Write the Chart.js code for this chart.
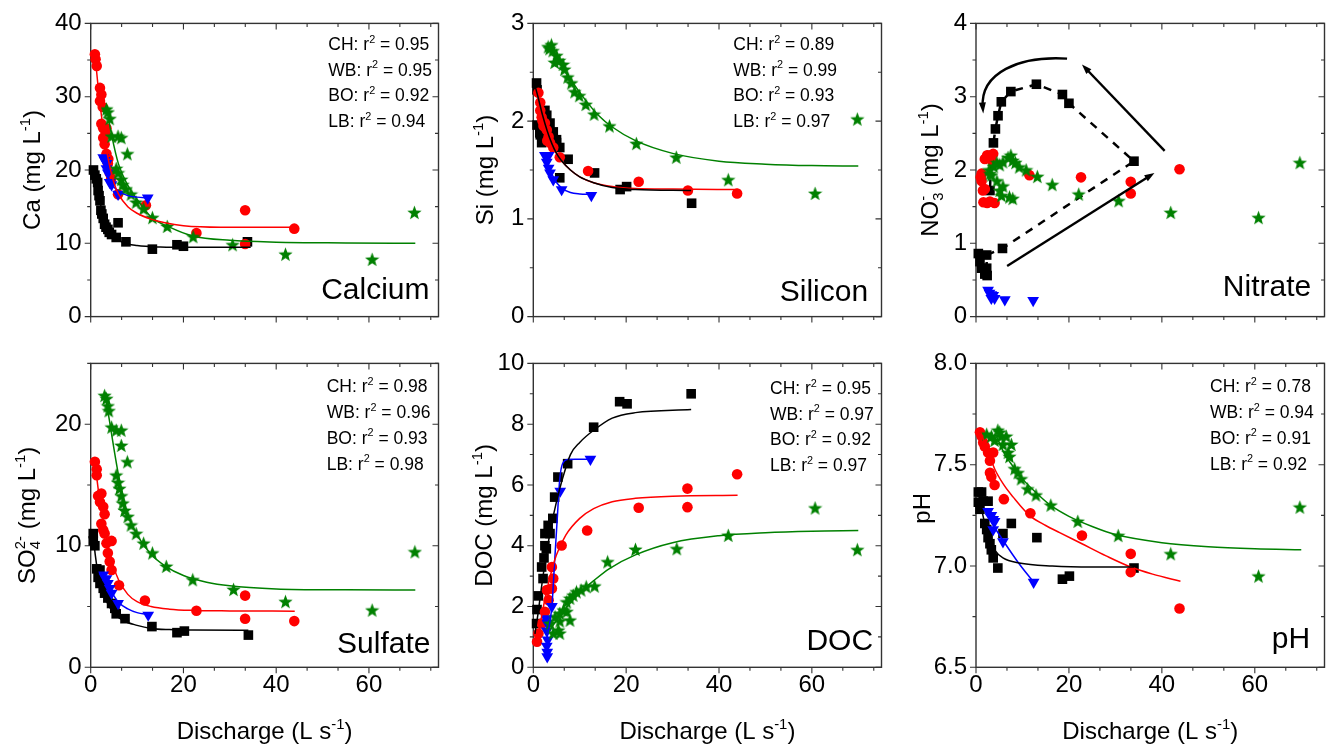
<!DOCTYPE html>
<html>
<head>
<meta charset="utf-8">
<title>Solute concentration vs discharge</title>
<script src="https://cdn.jsdelivr.net/npm/chart.js@4.4.1/dist/chart.umd.min.js"></script>
<style>
  html, body { margin: 0; padding: 0; background: #fff; }
  body { position: relative; width: 1327px; height: 746px; overflow: hidden; }
  canvas { position: absolute; }
</style>
</head>
<body>
<canvas id="ca"  width="446" height="340" style="left:0px;top:0px"></canvas>
<canvas id="si"  width="446" height="340" style="left:443px;top:0px"></canvas>
<canvas id="no3" width="446" height="340" style="left:886px;top:0px"></canvas>
<canvas id="so4" width="446" height="406" style="left:0px;top:340px"></canvas>
<canvas id="doc" width="446" height="406" style="left:443px;top:340px"></canvas>
<canvas id="ph"  width="446" height="406" style="left:886px;top:340px"></canvas>
<script>
/* global Chart */

// ---- data: [discharge (L/s), concentration] per site ----
// CH = black squares, WB = red circles, BO = blue triangles, LB = green stars

const caCH = [[0.6,20.0],[0.9,19.3],[1.2,18.8],[1.5,18.3],[1.6,17.2],[1.8,16.5],[2.0,15.8],[2.2,14.5],[2.4,14.0],[2.7,13.4],[3.0,12.6],[3.3,12.2],[3.7,11.9],[4.0,11.5],[4.5,11.2],[5.5,10.8],[5.9,12.8],[7.6,10.2],[13.3,9.2],[18.6,9.8],[20.0,9.6],[33.8,10.2]];
const caWB = [[0.9,35.8],[1.05,35.1],[1.3,34.2],[2.0,31.2],[2.3,30.3],[2.0,29.4],[2.6,28.6],[2.3,26.3],[2.7,25.7],[3.4,25.7],[3.2,24.8],[2.7,24.4],[3.0,23.5],[3.4,22.2],[3.8,21.5],[3.7,20.9],[4.1,19.6],[4.4,18.8],[5.9,16.7],[11.9,15.2],[33.3,14.5],[22.8,11.4],[33.3,9.9],[43.9,12.0]];
const caBO = [[2.7,21.7],[3.0,21.3],[3.4,20.9],[3.4,20.2],[3.7,19.6],[4.1,18.3],[4.5,18.0],[5.9,16.7],[12.3,16.2]];
const caLB = [[3.4,28.3],[3.7,27.9],[4.1,27.0],[4.5,24.6],[5.9,24.6],[6.6,24.4],[7.9,22.2],[5.5,20.2],[5.9,19.6],[6.6,18.7],[6.9,18.0],[7.6,17.4],[8.7,16.7],[9.8,15.6],[11.4,14.7],[13.3,13.5],[16.5,12.3],[22.1,10.9],[30.6,9.8],[42.0,8.5],[60.7,7.8],[69.8,14.2]];
const caCHFit = [[0.5,19.8],[1,18.3],[2,15.6],[3,13.3],[4,11.8],[5,10.9],[7,10.1],[10,9.7],[15,9.5],[22,9.45],[34.5,9.45]];
const caWBFit = [[1,35.2],[1.5,32],[2,29],[3,24.3],[4,20.8],[5,18.3],[6,16.7],[8,15],[10,14.1],[13,13.3],[16,12.8],[20,12.4],[28,12.2],[44,12.2]];
const caBOFit = [[2.7,21.5],[3.5,19.6],[4.5,18.1],[6,17.1],[8,16.5],[10,16.3],[12.3,16.2]];
const caLBFit = [[3.4,28.5],[4.5,24.8],[6,20.8],[8,17.9],[10,16.0],[13,13.6],[17,12.2],[22,11.0],[30,10.4],[40,10.15],[55,10.05],[70,10.0]];
const caR2 = ['0.95', '0.95', '0.92', '0.94'];

const siCH = [[0.7,2.39],[0.8,2.32],[0.8,1.96],[1.4,1.88],[1.5,1.86],[1.8,1.78],[2.5,2.11],[2.9,2.06],[3.6,1.98],[4.3,1.89],[5.0,1.81],[5.0,1.78],[5.7,1.73],[7.5,1.61],[5.7,1.42],[13.2,1.47],[18.7,1.30],[20.1,1.33],[34.1,1.16]];
const siWB = [[1.1,2.29],[1.5,2.19],[1.5,2.11],[1.8,2.04],[2.0,2.0],[2.2,1.95],[2.5,1.98],[2.9,1.91],[3.0,1.8],[3.3,1.84],[3.6,1.78],[4.3,1.73],[5.7,1.63],[11.8,1.49],[22.7,1.38],[33.3,1.29],[43.9,1.26]];
const siBO = [[2.5,1.65],[3.3,1.65],[2.9,1.58],[3.3,1.52],[3.6,1.47],[4.3,1.40],[6.1,1.30],[12.5,1.24]];
const siLB = [[3.2,2.76],[3.5,2.74],[3.9,2.78],[4.2,2.72],[4.6,2.60],[5.0,2.67],[5.6,2.62],[6.4,2.58],[6.7,2.53],[7.4,2.45],[8.2,2.39],[8.9,2.30],[9.9,2.26],[11.3,2.17],[13.1,2.07],[16.4,1.95],[22.2,1.77],[30.8,1.63],[42.0,1.40],[60.7,1.26],[69.8,2.02]];
const siCHFit = [[0.5,2.34],[1,2.25],[2,2.06],[3,1.9],[4,1.77],[5,1.67],[6,1.6],[8,1.5],[10,1.43],[13,1.37],[17,1.32],[22,1.3],[34,1.29]];
const siWBFit = [[1,2.28],[2,2.06],[3,1.9],[4,1.77],[5,1.67],[6,1.6],[8,1.5],[10,1.43],[13,1.37],[17,1.33],[22,1.31],[30,1.305],[44,1.3]];
const siBOFit = [[2.5,1.68],[3.5,1.52],[4.5,1.41],[6,1.32],[8,1.27],[10,1.255],[12.5,1.25]];
const siLBFit = [[3,2.8],[5,2.65],[8,2.43],[11,2.23],[14,2.06],[17,1.94],[22,1.8],[30,1.67],[40,1.59],[50,1.56],[60,1.545],[70,1.54]];
const siR2 = ['0.89', '0.99', '0.93', '0.97'];

// CH nitrate samples in time order (hysteresis loop)
const no3CH = [[0.5,0.86],[0.85,0.75],[1.2,0.66],[1.9,0.58],[2.4,0.56],[2.3,0.66],[2.3,0.84],[5.7,0.93],[34.0,2.12],[20.0,2.91],[18.6,3.03],[13.0,3.17],[7.5,3.07],[5.45,2.93],[4.74,2.74],[4.18,2.56],[3.75,2.37],[3.3,2.2],[3.0,1.72]];
const no3WB = [[1.0,1.9],[1.2,1.95],[1.2,1.85],[1.5,1.72],[1.9,1.74],[1.9,2.15],[2.4,2.2],[2.6,2.17],[3.0,2.18],[3.7,2.22],[3.5,2.12],[1.6,1.56],[2.4,1.55],[3.0,1.57],[4.0,1.55],[11.5,1.93],[22.6,1.90],[33.3,1.84],[33.3,1.68],[43.8,2.01]];
const no3BO = [[2.6,0.36],[2.9,0.32],[3.3,0.3],[3.7,0.29],[4.0,0.25],[3.3,0.25],[6.2,0.23],[12.3,0.22]];
const no3LB = [[2.8,2.0],[3.0,1.95],[3.3,1.93],[3.8,2.05],[4.5,2.1],[5.1,2.07],[5.8,2.11],[6.9,2.17],[7.5,2.2],[7.9,2.13],[8.5,2.1],[9.3,2.04],[10.8,2.0],[13.2,1.91],[16.4,1.80],[22.1,1.67],[30.7,1.58],[41.9,1.42],[60.8,1.35],[69.7,2.10],[4.5,1.85],[5.1,1.72],[5.5,1.65],[5.8,1.78],[7.2,1.63],[7.9,1.61]];
// loop direction arrows, in axis units
const no3StraightArrows = [[[40.6,2.26],[22.8,3.44]], [[6.7,0.69],[38.4,1.96]]];
const no3CurvedArrow = [[19.6,3.52],[9.3,3.56],[0.85,3.33],[1.56,2.77]];

const so4CH = [[0.55,11.0],[0.55,10.4],[0.9,10.0],[1.3,8.1],[2.0,8.0],[1.6,7.4],[2.0,6.9],[2.7,6.5],[3.0,6.1],[3.7,5.7],[4.5,5.25],[5.2,4.85],[5.5,4.4],[7.4,4.0],[13.2,3.35],[18.6,2.85],[20.2,2.98],[34.0,2.65]];
const so4WB = [[0.9,16.9],[1.3,16.3],[1.3,15.8],[1.6,14.1],[2.3,14.3],[2.0,13.6],[2.7,13.2],[3.0,12.6],[2.3,11.8],[2.7,11.3],[3.0,11.0],[4.5,10.4],[3.4,10.2],[3.7,9.4],[4.1,8.7],[4.5,8.0],[6.1,6.75],[11.7,5.5],[22.8,4.65],[33.3,5.9],[33.3,4.0],[43.9,3.8]];
const so4BO = [[2.7,7.6],[3.4,7.3],[3.7,6.9],[4.1,6.5],[4.5,6.1],[5.9,5.25],[12.4,4.3]];
const so4LB = [[3.0,22.35],[3.4,22.1],[3.7,21.5],[3.9,21.1],[4.5,19.75],[5.5,19.5],[6.6,19.5],[6.6,18.25],[7.9,16.9],[5.5,15.8],[5.9,15.2],[6.2,14.7],[6.6,14.1],[6.9,13.5],[7.3,12.9],[8.0,12.4],[8.7,11.7],[9.8,11.0],[11.4,10.2],[13.3,9.4],[16.3,8.3],[22.0,7.2],[30.8,6.4],[42.0,5.4],[60.7,4.7],[69.9,9.5]];
const so4CHFit = [[0.5,11.0],[1,9.2],[1.5,7.9],[2,7.0],[3,5.8],[4,5.0],[5,4.45],[7,3.85],[10,3.45],[13,3.2],[17,3.1],[22,3.06],[34,3.05]];
const so4WBFit = [[1,16.6],[1.5,15],[2,13.6],[3,11.4],[4,9.6],[5,8.2],[6,7.2],[8,6.0],[10,5.4],[13,5.0],[17,4.78],[22,4.68],[30,4.64],[44,4.62]];
const so4BOFit = [[2.5,7.8],[3.5,6.9],[4.5,6.2],[6,5.35],[8,4.8],[10,4.5],[12.4,4.35]];
const so4LBFit = [[3,22.6],[4,20.4],[5,18.0],[6,15.8],[7,14.0],[8,12.6],[10,10.9],[13,9.3],[16,8.35],[20,7.55],[25,7.0],[30,6.7],[40,6.45],[55,6.37],[70,6.35]];
const so4R2 = ['0.98', '0.96', '0.93', '0.98'];

const docCH = [[0.7,1.44],[0.8,1.9],[1.1,2.35],[1.8,3.3],[2.1,2.92],[2.3,3.6],[2.5,4.0],[2.5,4.4],[2.8,3.9],[3.2,4.67],[3.6,4.4],[4.2,4.9],[4.6,5.6],[5.3,6.26],[7.4,6.7],[13.0,7.9],[18.6,8.74],[20.2,8.67],[34.0,9.0]];
const docWB = [[0.8,0.84],[1.1,1.11],[1.8,1.44],[2.5,1.83],[3.3,2.21],[2.9,2.54],[4.0,2.59],[4.3,2.92],[4.0,3.3],[6.1,4.01],[11.6,4.5],[22.7,5.25],[33.2,5.88],[33.2,5.27],[43.9,6.35]];
const docBO = [[2.8,1.6],[3.0,1.45],[2.9,1.2],[3.1,0.9],[2.9,0.7],[3.0,0.5],[3.0,0.35],[4.0,2.0],[5.8,5.8],[12.3,6.85]];
const docLB = [[3.6,1.44],[4.3,1.12],[4.7,1.66],[5.4,1.22],[5.7,1.77],[5.7,1.52],[5.7,1.12],[6.5,1.88],[7.2,1.83],[7.2,2.15],[7.9,2.27],[7.9,1.55],[8.6,2.37],[9.3,2.48],[10.3,2.54],[11.4,2.65],[13.2,2.67],[16.0,3.47],[22.0,3.88],[30.9,3.9],[42.0,4.34],[60.7,5.24],[69.8,3.87]];
const docCHFit = [[0.35,1.1],[1,1.75],[2,2.9],[3,3.9],[4,4.75],[5,5.45],[6,6.05],[8,7.0],[10,7.4],[13,7.8],[17,8.2],[22,8.38],[34,8.48]];
const docWBFit = [[1,1.0],[2,1.85],[3,2.6],[4,3.2],[5,3.7],[7,4.35],[10,4.9],[13,5.22],[17,5.45],[22,5.56],[30,5.63],[44,5.66]];
const docBOFit = [[3,1.0],[4,2.0],[4.6,3.5],[5.2,5.0],[5.7,6.2],[6.3,6.7],[7.5,6.84],[9,6.85],[12.3,6.85]];
const docLBFit = [[3,1.1],[5,1.55],[7,1.95],[10,2.45],[13,2.85],[16.4,3.25],[22,3.7],[30,4.1],[40,4.33],[50,4.43],[60,4.48],[70,4.5]];
const docR2 = ['0.95', '0.97', '0.92', '0.97'];

const phCH = [[0.5,7.365],[1.2,7.365],[0.5,7.315],[1.55,7.32],[2.6,7.32],[0.85,7.28],[1.9,7.21],[2.3,7.18],[2.6,7.14],[3.0,7.11],[3.3,7.08],[3.7,7.04],[4.7,6.99],[5.8,7.16],[7.6,7.21],[13.1,7.14],[18.6,6.935],[20.1,6.95],[34.0,6.99]];
const phWB = [[0.85,7.66],[1.2,7.64],[1.55,7.61],[1.9,7.59],[2.6,7.56],[3.7,7.56],[3.0,7.52],[3.0,7.46],[3.3,7.44],[4.0,7.40],[6.0,7.33],[11.7,7.26],[22.8,7.15],[33.3,7.06],[33.3,6.97],[43.8,6.79]];
const phBO = [[2.6,7.27],[3.3,7.25],[3.7,7.23],[4.0,7.22],[3.7,7.18],[5.8,7.12],[12.4,6.92]];
const phLB = [[2.3,7.65],[3.3,7.64],[4.7,7.67],[5.1,7.66],[5.4,7.64],[6.5,7.64],[4.0,7.62],[5.8,7.60],[7.6,7.60],[6.9,7.56],[7.2,7.54],[8.3,7.48],[9.0,7.46],[9.7,7.43],[11.1,7.38],[12.9,7.35],[16.1,7.30],[21.9,7.22],[30.6,7.15],[41.9,7.06],[60.8,6.95],[69.7,7.29]];
const phCHFit = [[1,7.3],[2,7.2],[3,7.13],[4,7.08],[5.8,7.04],[9.3,7.015],[16.4,7.0],[25,6.995],[34,6.995]];
const phWBFit = [[1,7.66],[2,7.6],[3,7.54],[4,7.48],[6,7.4],[8,7.34],[11.5,7.25],[15,7.2],[18,7.165],[22.8,7.11],[28,7.05],[33.3,6.995],[38,6.96],[44,6.925]];
const phBOFit = [[2,7.26],[4,7.19],[6,7.12],[9,7.02],[12.4,6.92]];
const phLBFit = [[4.4,7.64],[6,7.56],[8,7.49],[10,7.43],[13,7.36],[16,7.3],[20,7.245],[25,7.195],[30,7.155],[40,7.115],[50,7.095],[60,7.085],[70,7.08]];
const phR2 = ['0.78', '0.94', '0.91', '0.92'];

const xTickLabels = [0, 20, 40, 60];
const X_MAX = 75;
const SITES = ['CH', 'WB', 'BO', 'LB'];

// ---- styling ----
const FONT = 'Arial, "Liberation Sans", sans-serif';
const INK = '#000000';
const FRAME = '#333333';
const SITE_COLOR = { CH: '#000000', WB: '#ff0000', BO: '#0000ff', LB: '#008000' };

function makeStar(size, color) {
  const c = document.createElement('canvas');
  c.width = c.height = size;
  const g = c.getContext('2d');
  const cx = size / 2, cy = size / 2 + 0.6, R = size / 2, r = R * 0.42;
  g.beginPath();
  for (let i = 0; i < 10; i++) {
    const a = -Math.PI / 2 + i * Math.PI / 5;
    const rr = i % 2 ? r : R;
    g.lineTo(cx + rr * Math.cos(a), cy + rr * Math.sin(a));
  }
  g.closePath();
  g.fillStyle = color;
  g.fill();
  return c;
}
const STAR = makeStar(15, SITE_COLOR.LB);

const MARKER = {
  CH: { pointStyle: 'rect', pointRadius: 6.8, rotation: 0, order: 4 },
  WB: { pointStyle: 'circle', pointRadius: 5.3, rotation: 0, order: 3 },
  BO: { pointStyle: 'triangle', pointRadius: 6.8, rotation: 180, order: 2 },
  LB: { pointStyle: STAR, pointRadius: 7.5, rotation: 0, order: 1 },
};

const pts = arr => arr.map(([x, y]) => ({ x, y }));

function scatterSet(arr, site, extra) {
  const m = MARKER[site];
  return Object.assign({
    data: pts(arr),
    pointStyle: m.pointStyle,
    pointRadius: m.pointRadius,
    pointRotation: m.rotation,
    pointBackgroundColor: SITE_COLOR[site],
    pointBorderWidth: 0,
    pointBorderColor: SITE_COLOR[site],
    showLine: false,
    order: m.order,
    clip: false,
  }, extra || {});
}

function fitSet(arr, site) {
  return {
    data: pts(arr),
    showLine: true,
    pointRadius: 0,
    borderColor: SITE_COLOR[site],
    borderWidth: 1.5,
    cubicInterpolationMode: 'monotone',
    fill: false,
    order: 0,
    clip: false,
  };
}

// ---- rich text (sub/superscripts) ----
function drawRich(ctx, segs, x, y, size, align) {
  const small = size * 0.62;
  const parts = [];
  let w = 0;
  for (const [t, k] of segs) {
    let ww;
    if (k === 'subsup') {
      ctx.font = `${small}px ${FONT}`;
      ww = Math.max(ctx.measureText(t[0]).width, ctx.measureText(t[1]).width);
    } else {
      ctx.font = `${k ? small : size}px ${FONT}`;
      ww = ctx.measureText(t).width;
    }
    parts.push([t, k, ww]);
    w += ww;
  }
  let cx = align === 'center' ? x - w / 2 : align === 'right' ? x - w : x;
  ctx.textAlign = 'left';
  ctx.textBaseline = 'alphabetic';
  ctx.fillStyle = INK;
  for (const [t, k, ww] of parts) {
    if (!k) {
      ctx.font = `${size}px ${FONT}`;
      ctx.fillText(t, cx, y);
    } else {
      ctx.font = `${small}px ${FONT}`;
      if (k === 'sup') ctx.fillText(t, cx, y - size * 0.42);
      else if (k === 'sub') ctx.fillText(t, cx, y + size * 0.2);
      else {
        ctx.fillText(t[0], cx, y + size * 0.2);
        ctx.fillText(t[1], cx, y - size * 0.42);
      }
    }
    cx += ww;
  }
}

function arrowHead(ctx, x, y, ang, len, half) {
  ctx.beginPath();
  ctx.moveTo(x, y);
  ctx.lineTo(x - len * Math.cos(ang) + half * Math.sin(ang), y - len * Math.sin(ang) - half * Math.cos(ang));
  ctx.lineTo(x - len * Math.cos(ang) - half * Math.sin(ang), y - len * Math.sin(ang) + half * Math.cos(ang));
  ctx.closePath();
  ctx.fill();
}

// frame, ticks on all four sides, titles and annotations
const decor = {
  id: 'decor',
  beforeDatasetsDraw(chart, args, o) {
    const ctx = chart.ctx, a = chart.chartArea;
    const xs = chart.scales.x, ys = chart.scales.y;
    ctx.save();
    ctx.strokeStyle = FRAME;
    ctx.lineWidth = 1.4;
    ctx.strokeRect(a.left, a.top, a.right - a.left, a.bottom - a.top);
    ctx.lineWidth = 1.1;
    ctx.beginPath();
    for (let k = 0; k * 20 / 3 <= X_MAX + 1e-6; k++) {
      const px = xs.getPixelForValue(k * 20 / 3);
      const len = k % 3 === 0 ? 6 : 3.5;
      ctx.moveTo(px, a.bottom); ctx.lineTo(px, a.bottom + len);
      ctx.moveTo(px, a.top); ctx.lineTo(px, a.top + len);
    }
    const [ymin, ymax, major, minor] = o.yAxis;
    const n = Math.round((ymax - ymin) / minor);
    const per = Math.round(major / minor);
    for (let k = 0; k <= n; k++) {
      const py = ys.getPixelForValue(ymin + k * minor);
      const len = k % per === 0 ? 6 : 3.5;
      ctx.moveTo(a.left, py); ctx.lineTo(a.left - len, py);
      ctx.moveTo(a.right, py); ctx.lineTo(a.right - len, py);
    }
    ctx.stroke();
    ctx.restore();
  },
  afterDatasetsDraw(chart, args, o) {
    const ctx = chart.ctx, a = chart.chartArea;
    const xs = chart.scales.x, ys = chart.scales.y;
    ctx.save();

    if (o.arrows) {
      const P = ([x, y]) => [xs.getPixelForValue(x), ys.getPixelForValue(y)];
      ctx.strokeStyle = INK;
      ctx.fillStyle = INK;
      ctx.lineWidth = 2.4;
      for (const [s, e] of o.arrows.straight) {
        const [x0, y0] = P(s), [x1, y1] = P(e);
        const ang = Math.atan2(y1 - y0, x1 - x0);
        ctx.beginPath();
        ctx.moveTo(x0, y0);
        ctx.lineTo(x1 - 8 * Math.cos(ang), y1 - 8 * Math.sin(ang));
        ctx.stroke();
        arrowHead(ctx, x1, y1, ang, 10, 3.5);
      }
      const [p0, c1, c2, p3] = o.arrows.curved.map(P);
      const ang = Math.atan2(p3[1] - c2[1], p3[0] - c2[0]);
      ctx.beginPath();
      ctx.moveTo(p0[0], p0[1]);
      ctx.bezierCurveTo(c1[0], c1[1], c2[0], c2[1], p3[0] - 6 * Math.cos(ang), p3[1] - 6 * Math.sin(ang));
      ctx.stroke();
      arrowHead(ctx, p3[0], p3[1], ang, 11, 3.5);
    }

    // r² block
    if (o.r2) {
      SITES.forEach((s, i) => {
        drawRich(ctx, [[s + ': r'], ['2', 'sup'], [' = ' + o.r2[i]]],
          a.left + o.r2At[0], a.top + o.r2At[1] + i * 25.7, 17.5, 'left');
      });
    }

    // panel name
    ctx.font = `30px ${FONT}`;
    ctx.fillStyle = INK;
    ctx.textAlign = 'right';
    ctx.textBaseline = 'alphabetic';
    ctx.fillText(o.name, a.right + o.nameAt[0], a.bottom + o.nameAt[1]);

    // y title, rotated
    ctx.save();
    ctx.translate(a.left - o.yTitleOff, (a.top + a.bottom) / 2 + (o.yTitleShift || 0));
    ctx.rotate(-Math.PI / 2);
    drawRich(ctx, o.yTitle, 0, 0, 24, 'center');
    ctx.restore();

    // x title on the lower row
    if (o.xTitle) {
      drawRich(ctx, [['Discharge (L s'], ['-1', 'sup'], [')']], (a.left + a.right) / 2, a.bottom + 71.7, 24, 'center');
    }
    ctx.restore();
  },
};

const panels = [
  { id: 'ca', row: 0, yw: 90.7, y: [0, 40, 10, 5], fmt: v => String(v), name: 'Calcium', nameAt: [-9, -17.3],
    yTitle: [['Ca (mg L'], ['-1', 'sup'], [')']], yTitleOff: 50.7, r2: caR2, r2At: [237.6, 26.6],
    sets: { CH: [caCH, caCHFit], WB: [caWB, caWBFit], BO: [caBO, caBOFit], LB: [caLB, caLBFit] } },
  { id: 'si', row: 0, yw: 90.3, y: [0, 3, 1, 0.5], fmt: v => String(v), name: 'Silicon', nameAt: [-13.4, -15.6],
    yTitle: [['Si (mg L'], ['-1', 'sup'], [')']], yTitleOff: 40.3, r2: siR2, r2At: [200, 26.6],
    sets: { CH: [siCH, siCHFit], WB: [siWB, siWBFit], BO: [siBO, siBOFit], LB: [siLB, siLBFit] } },
  { id: 'no3', row: 0, yw: 90, y: [0, 4, 1, 0.5], fmt: v => String(v), name: 'Nitrate', nameAt: [-13.3, -20.6],
    yTitle: [['NO'], [['3', '-'], 'subsup'], [' (mg L'], ['-1', 'sup'], [')']], yTitleOff: 38, r2: null,
    arrows: { straight: no3StraightArrows, curved: no3CurvedArrow },
    sets: { CH: [no3CH, null], WB: [no3WB, null], BO: [no3BO, null], LB: [no3LB, null] } },
  { id: 'so4', row: 1, yw: 90.7, y: [0, 25, 10, 5], fmt: v => String(v), name: 'Sulfate', nameAt: [-8, -14],
    yTitle: [['SO'], [['4', '2-'], 'subsup'], [' (mg L'], ['-1', 'sup'], [')']], yTitleOff: 55.7, r2: so4R2, r2At: [236, 29],
    sets: { CH: [so4CH, so4CHFit], WB: [so4WB, so4WBFit], BO: [so4BO, so4BOFit], LB: [so4LB, so4LBFit] } },
  { id: 'doc', row: 1, yw: 90.3, y: [0, 10, 2, 1], fmt: v => String(v), name: 'DOC', nameAt: [-8.4, -17.3],
    yTitle: [['DOC (mg L'], ['-1', 'sup'], [')']], yTitleOff: 41.6, r2: docR2, r2At: [236.7, 30.6],
    sets: { CH: [docCH, docCHFit], WB: [docWB, docWBFit], BO: [docBO, docBOFit], LB: [docLB, docLBFit] } },
  { id: 'ph', row: 1, yw: 90, y: [6.5, 8.0, 0.5, 0.25], fmt: v => v.toFixed(1), name: 'pH', nameAt: [-14.3, -19],
    yTitle: [['pH']], yTitleOff: 46, yTitleShift: -7, r2: phR2, r2At: [234, 29],
    sets: { CH: [phCH, phCHFit], WB: [phWB, phWBFit], BO: [phBO, phBOFit], LB: [phLB, phLBFit] } },
];

for (const p of panels) {
  const datasets = [];
  for (const s of SITES) {
    const [obs, fit] = p.sets[s];
    const extra = (p.id === 'no3' && s === 'CH')
      ? { showLine: true, borderColor: INK, borderWidth: 2.5, borderDash: [8, 7], tension: 0 }
      : null;
    datasets.push(scatterSet(obs, s, extra));
    if (fit) datasets.push(fitSet(fit, s));
  }
  const lower = p.row === 1;
  new Chart(document.getElementById(p.id), {
    type: 'scatter',
    data: { datasets },
    plugins: [decor],
    options: {
      responsive: false,
      animation: false,
      events: [],
      layout: { padding: { top: 22.7, right: 2, left: 0, bottom: 0 } },
      plugins: {
        legend: { display: false },
        tooltip: { enabled: false },
        decor: {
          yAxis: p.y, name: p.name, nameAt: p.nameAt, yTitle: p.yTitle, yTitleOff: p.yTitleOff,
          yTitleShift: p.yTitleShift, r2: p.r2, r2At: p.r2At, arrows: p.arrows || null, xTitle: lower,
        },
      },
      scales: {
        x: {
          type: 'linear', min: 0, max: X_MAX,
          afterFit: sc => { sc.height = lower ? 78.7 : 12.7; },
          grid: { display: false, drawTicks: false },
          border: { display: false },
          afterBuildTicks: sc => { sc.ticks = xTickLabels.map(v => ({ value: v })); },
          ticks: { display: lower, padding: 4, color: INK, font: { family: FONT, size: 24 } },
        },
        y: {
          type: 'linear', min: p.y[0], max: p.y[1],
          afterFit: sc => { sc.width = p.yw; },
          grid: { display: false, drawTicks: false },
          border: { display: false },
          ticks: {
            stepSize: p.y[2], includeBounds: false, padding: 9, color: INK,
            font: { family: FONT, size: 24 }, callback: p.fmt,
          },
        },
      },
    },
  });
}
</script>
</body>
</html>
